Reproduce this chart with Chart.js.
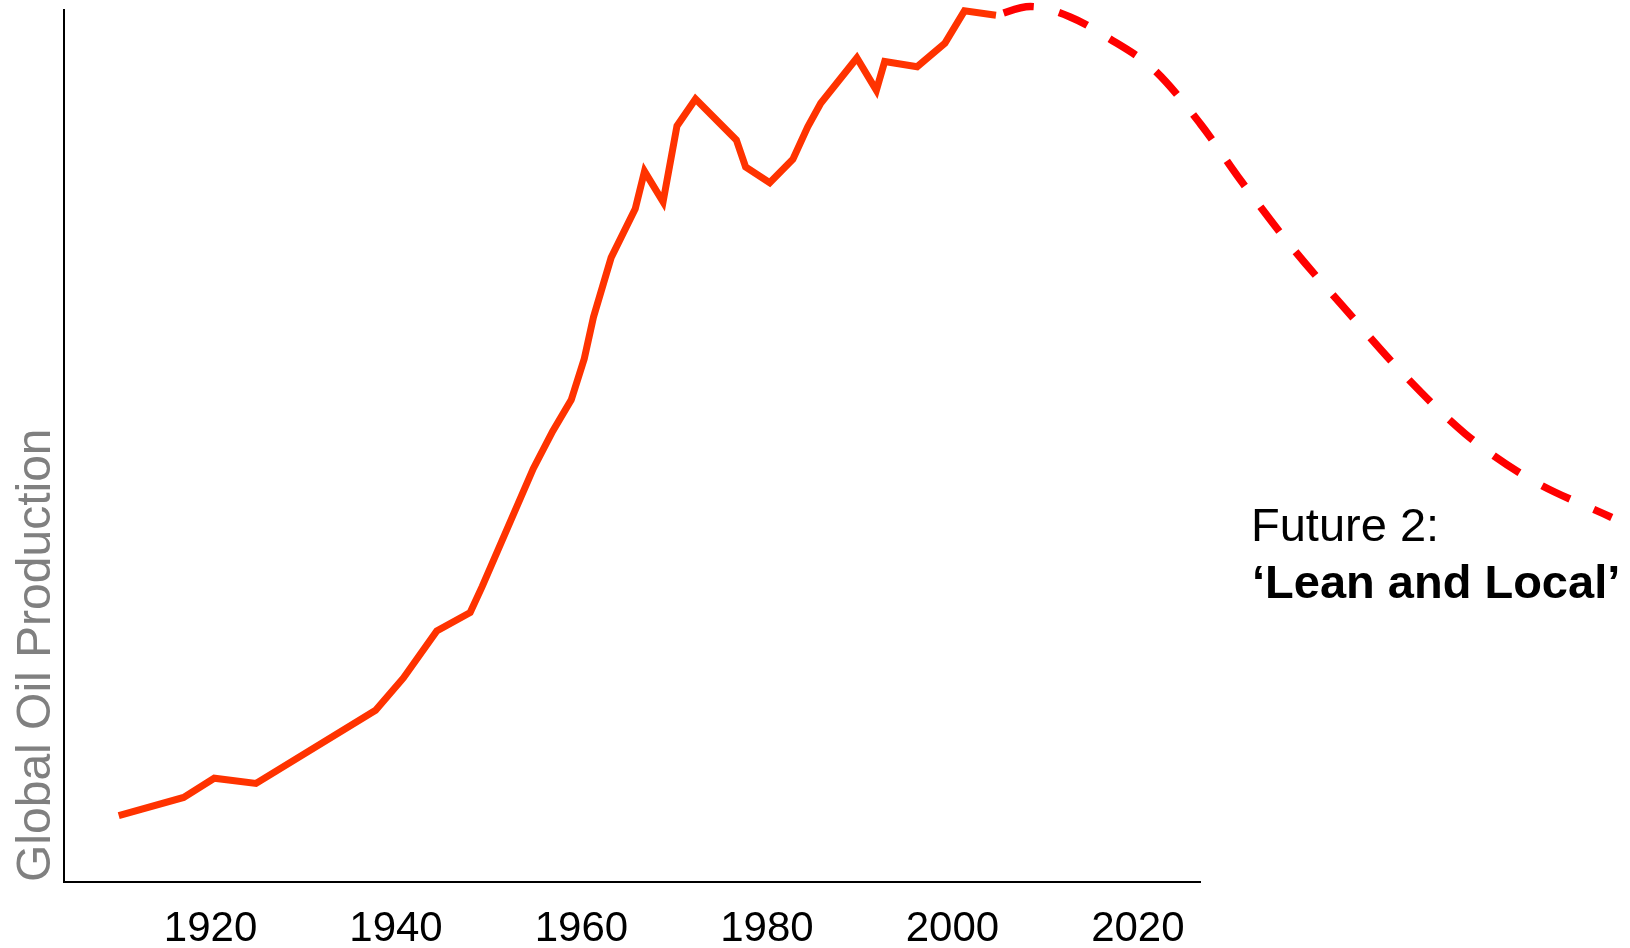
<!DOCTYPE html>
<html>
<head>
<meta charset="utf-8">
<title>Global Oil Production - Future 2</title>
<script src="https://cdn.jsdelivr.net/npm/chart.js@4.4.1/dist/chart.umd.min.js"></script>
<style>
  html, body { margin: 0; padding: 0; background: #fff; }
  #wrap { width: 1630px; height: 948px; position: relative; }
</style>
</head>
<body>
<div id="wrap"><canvas id="oilChart"></canvas></div>
<script>
// historic production (solid line)
const histYears = [1910.1, 1917.1, 1920.4, 1924.9, 1937.8, 1940.8, 1944.4, 1948.0, 1949.3, 1954.8,
                   1956.9, 1958.9, 1960.3, 1961.3, 1963.2, 1965.8, 1966.8, 1968.8, 1970.3, 1972.3,
                   1976.7, 1977.7, 1980.3, 1982.8, 1984.4, 1985.8, 1989.7, 1991.8, 1992.7, 1996.2,
                   1999.2, 2001.3, 2004.7];
const histOutput = [7.6, 9.7, 11.9, 11.3, 19.7, 23.4, 28.8, 30.9, 33.9, 47.4,
                    51.7, 55.3, 60.0, 64.8, 71.6, 77.2, 81.5, 78.0, 86.7, 89.8,
                    85.1, 82.0, 80.2, 82.9, 86.6, 89.3, 94.5, 90.8, 94.1, 93.5,
                    96.2, 99.9, 99.4];

// scenario 'Lean and Local' (dashed line)
const futureYears = [2004.7, 2008.4, 2012.7, 2016.8, 2021.7, 2026.7, 2031.2, 2036.6, 2042.7,
                     2048.5, 2055.3, 2062.3, 2071.1];
const futureOutput = [99.4, 100.4, 99.2, 96.8, 93.2, 87.0, 80.3, 72.8, 65.3,
                      58.4, 51.4, 46.2, 41.8];

const tickYears = [1920, 1940, 1960, 1980, 2000, 2020];
const xStart = 1904.2;
const xEnd = 2026.7;

const FONT = '"Liberation Sans", Arial, Helvetica, sans-serif';

function toPoints(xs, ys) {
    return xs.map((x, i) => ({ x: x, y: ys[i] }));
}

// texte de l'annotation a droite
const scenarioLabel = {
    id: 'scenarioLabel',
    afterDraw(chart) {
        const ctx = chart.ctx;
        ctx.save();
        ctx.fillStyle = '#000';
        ctx.textBaseline = 'alphabetic';
        ctx.textAlign = 'left';
        ctx.font = '47px ' + FONT;
        ctx.fillText('Future 2:', 1251, 541);
        ctx.font = 'bold 47px ' + FONT;
        ctx.fillText('\u2018Lean and Local\u2019', 1252, 598);
        ctx.restore();
    }
};

const ctx = document.getElementById('oilChart').getContext('2d');
new Chart(ctx, {
    type: 'line',
    data: {
        datasets: [{
            label: 'Historic',
            data: toPoints(histYears, histOutput),
            borderColor: '#ff3300',
            borderWidth: 7,
            borderJoinStyle: 'miter',
            borderCapStyle: 'butt',
            pointRadius: 0,
            tension: 0,
            fill: false,
            clip: false
        }, {
            label: 'Future 2',
            data: toPoints(futureYears, futureOutput),
            borderColor: '#ff0000',
            borderWidth: 7.5,
            borderDash: [31, 26],
            borderDashOffset: 49,
            borderCapStyle: 'butt',
            cubicInterpolationMode: 'monotone',
            pointRadius: 0,
            fill: false,
            clip: false
        }]
    },
    options: {
        responsive: true,
        maintainAspectRatio: false,
        animation: false,
        layout: { padding: { top: 10, right: 430, left: 0, bottom: 0 } },
        plugins: {
            legend: { display: false },
            tooltip: { enabled: false }
        },
        scales: {
            x: {
                type: 'linear',
                bounds: 'data',
                grid: { display: false, drawTicks: false },
                border: { display: true, color: '#000', width: 2 },
                ticks: {
                    color: '#000',
                    padding: 22,
                    maxRotation: 0,
                    font: { family: FONT, size: 42 },
                    callback: v => String(v)
                },
                // range set here so the dashed line past the axis end is still drawn
                afterDataLimits: scale => {
                    scale.min = xStart;
                    scale.max = xEnd;
                },
                afterBuildTicks: scale => {
                    scale.ticks = tickYears.map(v => ({ value: v }));
                },
                afterFit: scale => { scale.height = 66; }
            },
            y: {
                min: 0,
                max: 100,
                ticks: { display: false },
                grid: { display: false, drawTicks: false },
                border: { display: true, color: '#000', width: 2 },
                title: {
                    display: true,
                    text: 'Global Oil Production',
                    align: 'start',
                    color: '#808080',
                    font: { family: FONT, size: 48 },
                    padding: { top: 8, bottom: 0 }
                },
                afterFit: scale => { scale.width = 64; }
            }
        }
    },
    plugins: [scenarioLabel]
});
</script>
</body>
</html>
